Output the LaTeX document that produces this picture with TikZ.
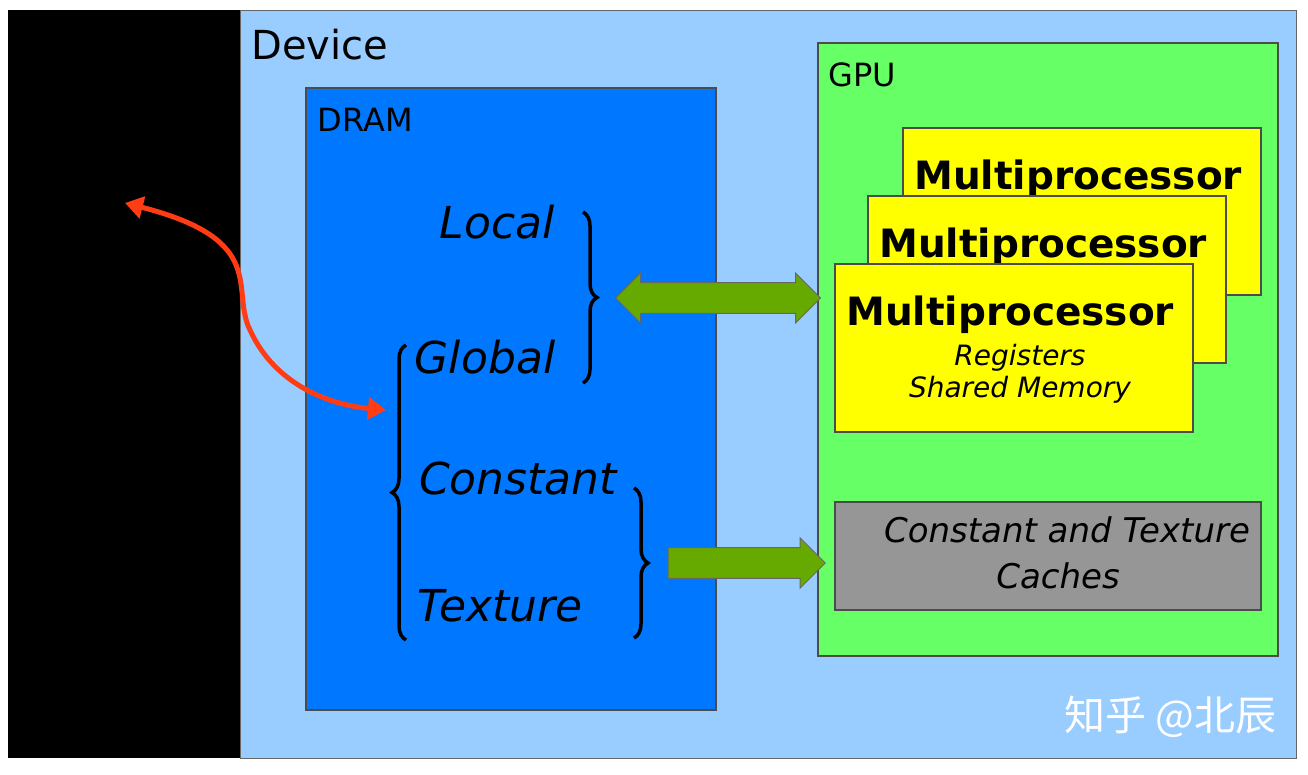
\documentclass[tikz,border=0pt]{standalone}
\usepackage{fontspec}
\setmainfont{DejaVu Sans}
\newfontfamily\cjk{Noto Sans CJK SC}
\usetikzlibrary{shapes.arrows,decorations.pathreplacing,arrows.meta}
\definecolor{devblue}{RGB}{153,204,255}
\definecolor{dramblue}{RGB}{0,119,255}
\definecolor{gpugreen}{RGB}{102,255,102}
\definecolor{mpyellow}{RGB}{255,255,0}
\definecolor{cachegray}{RGB}{150,150,150}
\definecolor{arrowgreen}{RGB}{102,170,0}
\definecolor{arrowred}{RGB}{255,60,20}

\begin{document}
\begin{tikzpicture}[x=1pt,y=-1pt,
        boxframe/.style={draw=black!70, line width=1.5pt},
        memtext/.style={font=\itshape\fontsize{44}{44}\selectfont, inner sep=0pt},
        mptext/.style={font=\bfseries\fontsize{39}{39}\selectfont, anchor=north west, inner sep=0pt},
        bigarrow/.style={fill=arrowgreen, draw=black!60, line width=1pt, minimum height=#1, inner sep=0pt,
                         minimum width=50pt},
        memgroup/.style={decorate, decoration={brace, amplitude=14pt}, line width=3.5pt}]
        \useasboundingbox (0,0) rectangle (1308,774);
        \fill[white] (0,0) rectangle (1308,774);
        % Host side and device
        \fill[black] (8,10) rectangle (240,758);
        \filldraw[fill=devblue, draw=black!60, line width=1pt] (240,10) rectangle (1296,758);
        \node[anchor=west, font=\fontsize{40}{40}\selectfont] (device) at (248,45) {Device};
        % DRAM
        \filldraw[boxframe, fill=dramblue] (306,88) rectangle (716,710);
        \node[anchor=west, font=\fontsize{32}{32}\selectfont] (dram) at (314,120) {DRAM};
        \node[memtext] (local) at (497,222) {Local};
        \node[memtext] (global) at (485,357) {Global};
        \node[memtext] (constant) at (518,478) {Constant};
        \node[memtext] (texture) at (500,606) {Texture};
        \draw[memgroup] (583,212) -- (583,383);
        \draw[memgroup] (406,640) -- (406,345);
        \draw[memgroup] (634,488) -- (634,638);
        % GPU
        \filldraw[boxframe, fill=gpugreen] (818,43) rectangle (1278,656);
        \node[anchor=west, font=\fontsize{32}{32}\selectfont] (gpu) at (825,75) {GPU};
        \foreach \dx/\dy [count=\i] in {903/128, 868/196} {
          \filldraw[boxframe, fill=mpyellow] (\dx,\dy) rectangle +(358,167);
          \node[mptext] (mp\i) at (\dx+11,\dy+32) {Multiprocessor};
        }
        \filldraw[boxframe, fill=mpyellow] (835,264) rectangle (1193,432);
        \node[mptext] (mp3) at (846,296) {Multiprocessor};
        \node[font=\itshape\fontsize{28}{32}\selectfont, align=center] (regs) at (1020,374) {Registers\\Shared Memory};
        \filldraw[boxframe, fill=cachegray] (835,502) rectangle (1261,610);
        \node[font=\itshape\fontsize{34}{46}\selectfont, align=center] (cache) at (1058,553) {\hspace*{18pt}Constant and Texture\\Caches};
        % Arrows
        \node[bigarrow=205pt, double arrow] (lgarrow) at (718,298) {\rule{0pt}{22pt}};
        \node[bigarrow=157pt, single arrow] (ctarrow) at (739,563) {\rule{0pt}{22pt}};
        \draw[arrowred, line width=5pt, {Triangle[length=18pt,width=22pt]}-{Triangle[length=18pt,width=22pt]}]
          (125,203) .. controls (270,240) and (230,290) .. (250,330) .. controls (275,385) and (330,405) .. (386,410);
        \node[white, font=\cjk\fontsize{41}{41}\selectfont] (mark) at (1170,717) {知乎 @北辰};
        \end{tikzpicture}
\end{document}
